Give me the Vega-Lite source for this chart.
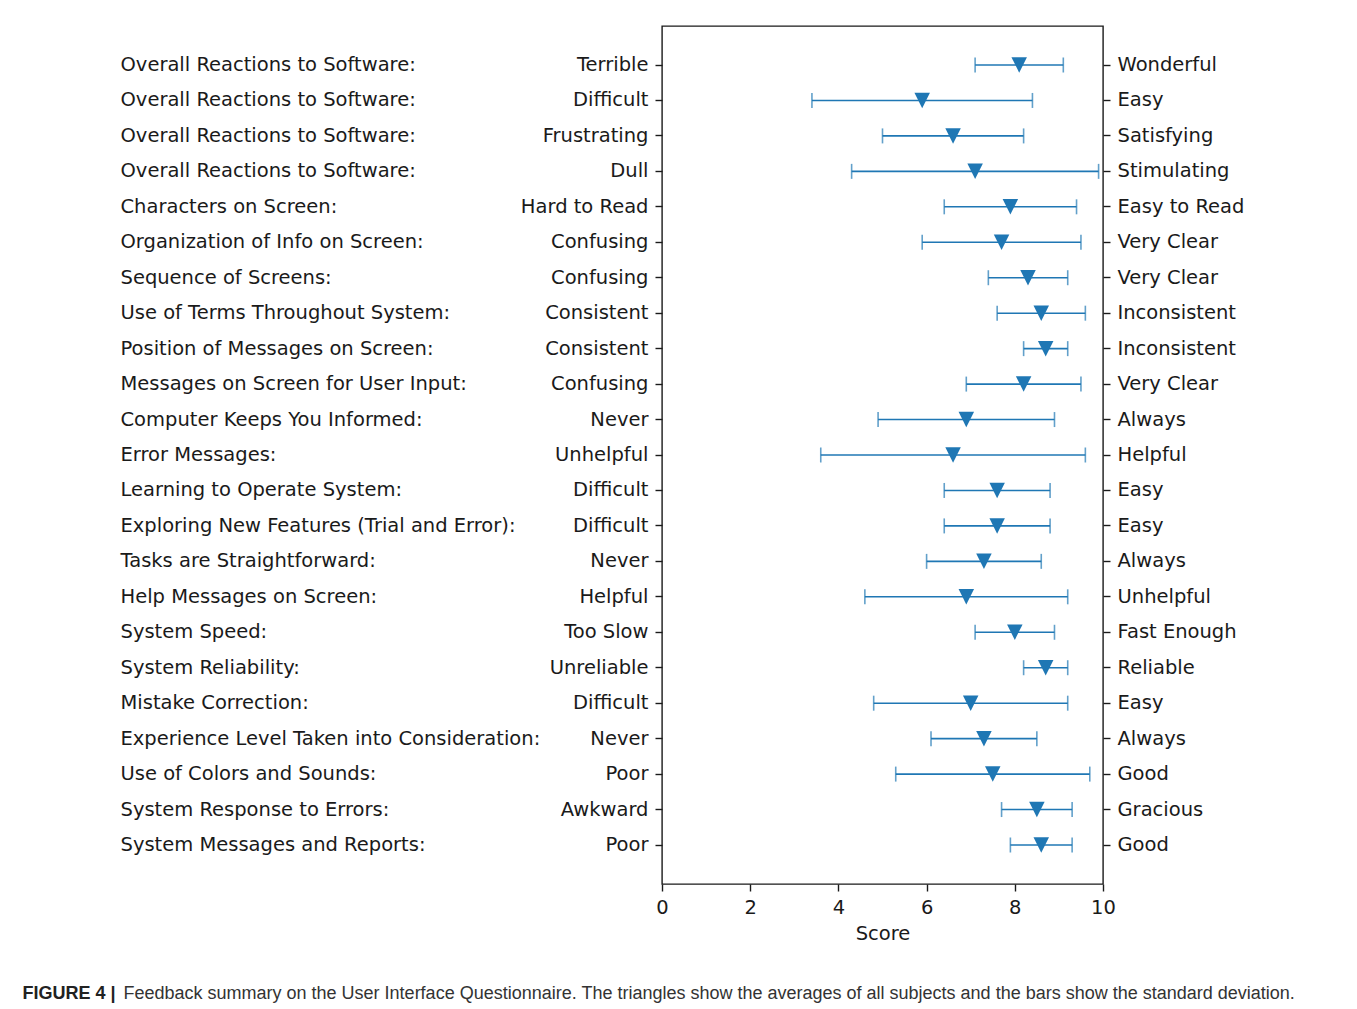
{
  "$schema": "https://vega.github.io/schema/vega-lite/v6.json",
  "width": 441,
  "height": 858,
  "padding": {"left": 22, "top": 26, "right": 5, "bottom": 5},
  "background": "white",
  "data": {
    "values": [
      {"key": "01|Overall Reactions to Software:|Terrible|Wonderful", "mean": 8.1, "lo": 7.1, "hi": 9.1},
      {"key": "02|Overall Reactions to Software:|Difficult|Easy", "mean": 5.9, "lo": 3.4, "hi": 8.4},
      {"key": "03|Overall Reactions to Software:|Frustrating|Satisfying", "mean": 6.6, "lo": 5.0, "hi": 8.2},
      {"key": "04|Overall Reactions to Software:|Dull|Stimulating", "mean": 7.1, "lo": 4.3, "hi": 9.9},
      {"key": "05|Characters on Screen:|Hard to Read|Easy to Read", "mean": 7.9, "lo": 6.4, "hi": 9.4},
      {"key": "06|Organization of Info on Screen:|Confusing|Very Clear", "mean": 7.7, "lo": 5.9, "hi": 9.5},
      {"key": "07|Sequence of Screens:|Confusing|Very Clear", "mean": 8.3, "lo": 7.4, "hi": 9.2},
      {"key": "08|Use of Terms Throughout System:|Consistent|Inconsistent", "mean": 8.6, "lo": 7.6, "hi": 9.6},
      {"key": "09|Position of Messages on Screen:|Consistent|Inconsistent", "mean": 8.7, "lo": 8.2, "hi": 9.2},
      {"key": "10|Messages on Screen for User Input:|Confusing|Very Clear", "mean": 8.2, "lo": 6.9, "hi": 9.5},
      {"key": "11|Computer Keeps You Informed:|Never|Always", "mean": 6.9, "lo": 4.9, "hi": 8.9},
      {"key": "12|Error Messages:|Unhelpful|Helpful", "mean": 6.6, "lo": 3.6, "hi": 9.6},
      {"key": "13|Learning to Operate System:|Difficult|Easy", "mean": 7.6, "lo": 6.4, "hi": 8.8},
      {"key": "14|Exploring New Features (Trial and Error):|Difficult|Easy", "mean": 7.6, "lo": 6.4, "hi": 8.8},
      {"key": "15|Tasks are Straightforward:|Never|Always", "mean": 7.3, "lo": 6.0, "hi": 8.6},
      {"key": "16|Help Messages on Screen:|Helpful|Unhelpful", "mean": 6.9, "lo": 4.6, "hi": 9.2},
      {"key": "17|System Speed:|Too Slow|Fast Enough", "mean": 8.0, "lo": 7.1, "hi": 8.9},
      {"key": "18|System Reliability:|Unreliable|Reliable", "mean": 8.7, "lo": 8.2, "hi": 9.2},
      {"key": "19|Mistake Correction:|Difficult|Easy", "mean": 7.0, "lo": 4.8, "hi": 9.2},
      {"key": "20|Experience Level Taken into Consideration:|Never|Always", "mean": 7.3, "lo": 6.1, "hi": 8.5},
      {"key": "21|Use of Colors and Sounds:|Poor|Good", "mean": 7.5, "lo": 5.3, "hi": 9.7},
      {"key": "22|System Response to Errors:|Awkward|Gracious", "mean": 8.5, "lo": 7.7, "hi": 9.3},
      {"key": "23|System Messages and Reports:|Poor|Good", "mean": 8.6, "lo": 7.9, "hi": 9.3}
    ]
  },
  "layer": [
    {
      "mark": {"type": "rule", "color": "#1f77b4", "strokeWidth": 1.6},
      "encoding": {
        "y": {"field": "key", "type": "nominal", "sort": "ascending", "scale": {"type": "band", "paddingInner": 0, "paddingOuter": 0.6},
          "axis": {"orient": "left", "labelExpr": "split(datum.value,'|')[2]", "title": null, "domain": false, "grid": false}},
        "x": {"field": "lo", "type": "quantitative", "scale": {"domain": [0, 10], "nice": false, "zero": false},
          "axis": {"orient": "bottom", "values": [0, 2, 4, 6, 8, 10], "title": "Score", "domain": false, "grid": false, "titlePadding": 8, "labelFlush": false}},
        "x2": {"field": "hi"}
      }
    },
    {
      "mark": {"type": "tick", "color": "#1f77b4", "thickness": 1.6, "size": 15, "orient": "vertical"},
      "encoding": {
        "y": {"field": "key", "type": "nominal", "sort": "ascending", "scale": {"type": "band", "paddingInner": 0, "paddingOuter": 0.6},
          "axis": {"orient": "right", "labelExpr": "split(datum.value,'|')[3]", "title": null, "domain": false, "grid": false, "labelAlign": "left"}},
        "x": {"field": "lo", "type": "quantitative",
          "axis": {"orient": "top", "labels": false, "ticks": false, "domain": false, "grid": false,
            "title": "Feedback summary on the User Interface Questionnaire. The triangles show the averages of all subjects and the bars show the standard deviation.",
            "titleX": -539, "titleY": 972, "titleAlign": "left", "titleBaseline": "alphabetic",
            "titleFont": "Liberation Sans", "titleFontSize": 18, "titleFontWeight": "normal", "titleColor": "#333333"}}
      }
    },
    {
      "mark": {"type": "tick", "color": "#1f77b4", "thickness": 1.6, "size": 15, "orient": "vertical"},
      "encoding": {
        "y": {"field": "key", "type": "nominal", "sort": "ascending", "scale": {"type": "band", "paddingInner": 0, "paddingOuter": 0.6},
          "axis": {"orient": "left", "labelExpr": "split(datum.value,'|')[1]", "title": null, "domain": false, "grid": false,
            "ticks": false, "tickSize": 0, "labelAlign": "left", "labelPadding": 542, "labelLimit": 1000}},
        "x": {"field": "hi", "type": "quantitative",
          "axis": {"orient": "top", "labels": false, "ticks": false, "domain": false, "grid": false,
            "title": "FIGURE 4 |",
            "titleX": -640, "titleY": 972, "titleAlign": "left", "titleBaseline": "alphabetic",
            "titleFont": "Liberation Sans", "titleFontSize": 18, "titleFontWeight": "bold", "titleColor": "#222222"}}
      }
    },
    {
      "mark": {"type": "point", "shape": "M-1,-1L1,-1L0,1Z", "filled": true, "size": 240, "color": "#1f77b4", "opacity": 1},
      "encoding": {
        "y": {"field": "key", "type": "nominal", "sort": "ascending", "scale": {"type": "band", "paddingInner": 0, "paddingOuter": 0.6}, "axis": null},
        "x": {"field": "mean", "type": "quantitative", "axis": null}
      }
    }
  ],
  "resolve": {"axis": {"x": "independent", "y": "independent"}},
  "config": {
    "view": {"stroke": "#1a1a1a", "strokeWidth": 1.4},
    "axis": {
      "labelFont": "DejaVu Sans", "labelFontSize": 19.5, "labelColor": "#1a1a1a",
      "titleFont": "DejaVu Sans", "titleFontSize": 19.5, "titleFontWeight": "normal", "titleColor": "#1a1a1a",
      "tickColor": "#1a1a1a", "tickWidth": 1.4, "tickSize": 7, "labelPadding": 7
    }
  }
}
